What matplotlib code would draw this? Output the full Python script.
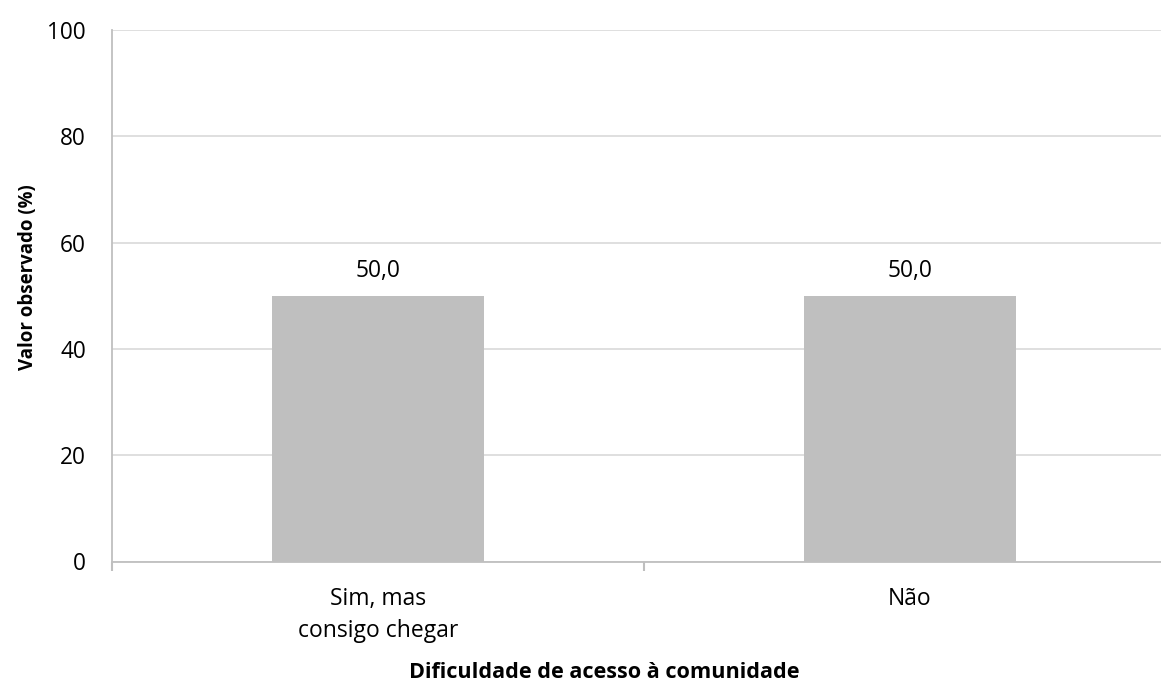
import matplotlib
matplotlib.use("Agg")
import matplotlib.pyplot as plt
from matplotlib.ticker import FixedLocator
from matplotlib.font_manager import FontProperties

categories = ["Sim, mas\nconsigo chegar", "Não"]
values = [50.0, 50.0]
yticks = [0, 20, 40, 60, 80, 100]
xlabel = "Dificuldade de acesso à comunidade"
ylabel = "Valor observado (%)"

plt.rcParams['font.family'] = ['Open Sans', 'DejaVu Sans']

DPI = 100
fig = plt.figure(figsize=(11.61, 6.84), dpi=DPI)
W, H = 1161, 684
left, right, top, bottom = 112, 1176, 30, 561.5
ax = fig.add_axes([left / W, 1 - bottom / H, (right - left) / W, (bottom - top) / H])
px = 72.0 / DPI  # points per pixel

x = list(range(len(categories)))
ax.bar(x, values, width=0.4, color="#BFBFBF", zorder=3)
data_labels = []
for xi, v in zip(x, values):
    t = ax.annotate(f"{v:.1f}".replace(".", ","), (xi, v), xytext=(0, 19 * px),
                    textcoords="offset points", ha="center", va="baseline", fontsize=17)
    data_labels.append(t)

ax.set_xlim(-0.5, len(categories) - 0.5)
ax.set_ylim(0, 100)
ax.set_yticks(yticks)
ax.yaxis.grid(True, color="#D9D9D9", linewidth=1.2, zorder=0)
ax.tick_params(axis="y", length=0, labelsize=17, pad=26 * px)
ax.set_xticks(x)
ax.set_xticklabels(categories, fontsize=17)
ax.tick_params(axis="x", which="major", length=0, pad=20 * px)
ax.xaxis.set_minor_locator(FixedLocator([i - 0.5 for i in range(len(categories) + 1)]))
ax.tick_params(axis="x", which="minor", length=9 * px, color="#BFBFBF", width=1.5)

for s in ["top", "right"]:
    ax.spines[s].set_visible(False)
for s in ["left", "bottom"]:
    ax.spines[s].set_color("#BFBFBF")
    ax.spines[s].set_linewidth(1.3)

ax.set_xlabel(xlabel, fontsize=16, fontweight="bold")
ax.set_ylabel(ylabel, fontsize=16, fontweight="bold")
ax.xaxis.set_label_coords((604 - left) / (right - left), (bottom - 678) / (bottom - top))
ax.xaxis.label.set_va("baseline")
ax.yaxis.set_label_coords((33 - left) / (right - left), (bottom - 277.5) / (bottom - top))
ax.yaxis.label.set_va("baseline")
ax.yaxis.label.set_rotation_mode("anchor")

# scale font sizes so rendered text widths match the reference
fig.canvas.draw()
r = fig.canvas.get_renderer()

def scale(artist, target, horizontal=True):
    bb = artist.get_window_extent(r)
    return target / (bb.width if horizontal else bb.height)

xs = 17 * scale(ax.get_xticklabels()[0], 160)
# place first-line baseline at y=605 px and line-to-line baseline distance 32 px
fp = FontProperties(family=['Open Sans', 'DejaVu Sans'], size=xs)
_, lp_h, lp_d = r.get_text_width_height_descent("lp", fp, ismath=False)
asc = lp_h - lp_d
pad_px = (605 - bottom) - asc
ls = (32 - lp_d) / asc
ax.tick_params(axis="x", which="major", labelsize=xs, pad=pad_px * px)
for lab in ax.get_xticklabels():
    lab.set_linespacing(ls)

f = scale(ax.get_yticklabels()[-1], 39)
ax.tick_params(axis="y", labelsize=17 * f)
f = scale(data_labels[0], 45)
for t in data_labels:
    t.set_fontsize(17 * f)
f = scale(ax.xaxis.label, 392)
ax.xaxis.label.set_fontsize(16 * f)
f = scale(ax.yaxis.label, 185, horizontal=False)
ax.yaxis.label.set_fontsize(16 * f)

fig.savefig("out.png", dpi=DPI)
